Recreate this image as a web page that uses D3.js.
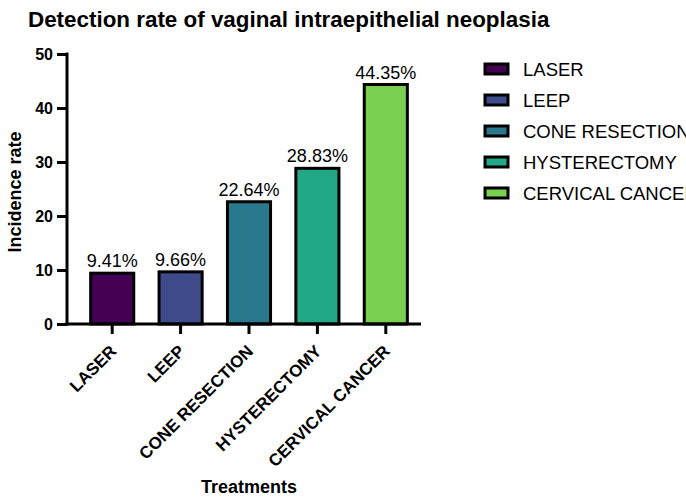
<!DOCTYPE html>
<html><head><meta charset="utf-8">
<script src="https://cdn.jsdelivr.net/npm/d3@7"></script>
<style>body{margin:0;background:#fff}svg{display:block;font-family:"Liberation Sans",Arial,sans-serif}</style>
</head><body>
<svg id="c" width="686" height="497"></svg>
<script>
const categories = ["LASER","LEEP","CONE RESECTION","HYSTERECTOMY","CERVICAL CANCER"];
const values = [9.41, 9.66, 22.64, 28.83, 44.35];
const valueLabels = ["9.41%","9.66%","22.64%","28.83%","44.35%"];
const colors = ["#440154","#3e4a89","#2a788e","#22a884","#7ad151"];
const yTicks = [0,10,20,30,40,50];

const svg = d3.select("#c");
const x = d3.scaleBand().domain(categories).range([78,420]).paddingInner(0.37).paddingOuter(0.185);
const y = d3.scaleLinear().domain([0,50]).range([324,54]);
const color = d3.scaleOrdinal().domain(categories).range(colors);
const FF = "Liberation Sans, Arial, sans-serif";

svg.append("text").attr("x",28).attr("y",27).attr("font-size",22.4).attr("font-weight","bold")
  .text("Detection rate of vaginal intraepithelial neoplasia");

// bars
svg.selectAll("rect.bar").data(categories).join("rect").attr("class","bar")
  .attr("x",d=>x(d)).attr("width",x.bandwidth())
  .attr("y",(d,i)=>y(values[i])).attr("height",(d,i)=>y(0)-y(values[i]))
  .attr("fill",d=>color(d)).attr("stroke","#000").attr("stroke-width",3);

svg.selectAll("text.vl").data(categories).join("text").attr("class","vl")
  .attr("x",d=>x(d)+x.bandwidth()/2).attr("y",(d,i)=>y(values[i])-6)
  .attr("text-anchor","middle").attr("font-size",18).text((d,i)=>valueLabels[i]);

// y axis
const ya = svg.append("g").attr("transform","translate(67,0)")
  .call(d3.axisLeft(y).tickValues(yTicks).tickSize(10).tickPadding(4));
ya.select(".domain").attr("stroke-width",3).attr("d","M0,52.5V325.5");
ya.selectAll(".tick line").attr("stroke-width",3);
ya.selectAll(".tick text").attr("font-size",16).attr("font-weight","bold").attr("fill","#000")
  .attr("font-family",FF);

// x axis
const xa = svg.append("g").attr("transform","translate(0,324)")
  .call(d3.axisBottom(x).tickSize(10).tickPadding(4));
xa.select(".domain").attr("stroke-width",3).attr("d","M65.5,0H421");
xa.selectAll(".tick line").attr("stroke-width",3);
xa.selectAll(".tick text").attr("font-size",17).attr("font-weight","bold").attr("fill","#000")
  .attr("font-family",FF)
  .attr("text-anchor","end").attr("dy","0.35em")
  .attr("transform","translate(1,24) rotate(-45)").attr("y",0).attr("x",0);

svg.append("text").attr("transform","translate(21,192) rotate(-90)").attr("text-anchor","middle")
  .attr("font-size",18).attr("font-weight","bold").text("Incidence rate");
svg.append("text").attr("x",249).attr("y",493).attr("text-anchor","middle")
  .attr("font-size",18).attr("font-weight","bold").text("Treatments");

// legend
const lg = svg.selectAll("g.lg").data(categories).join("g").attr("class","lg")
  .attr("transform",(d,i)=>`translate(485,${69+i*31})`);
lg.append("rect").attr("x",0).attr("y",-5).attr("width",23).attr("height",10)
  .attr("fill",d=>color(d)).attr("stroke","#000").attr("stroke-width",3);
lg.append("text").attr("x",38).attr("y",7).attr("font-size",18.5).text(d=>d);
</script>
</body></html>
